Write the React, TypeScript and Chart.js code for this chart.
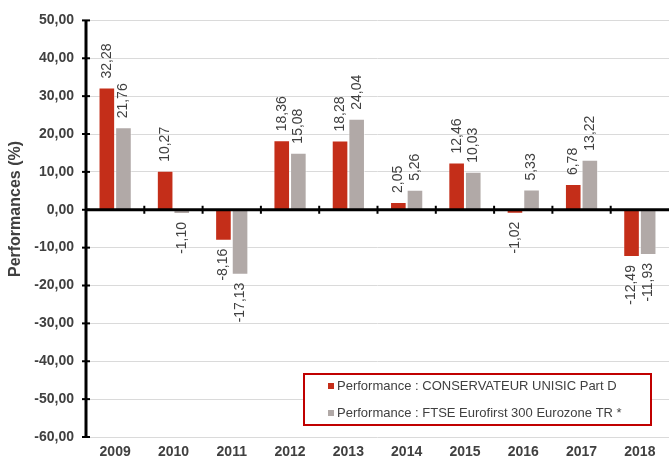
import React, { useEffect, useRef } from "react";
import { Chart, registerables } from "chart.js";

Chart.register(...registerables);

const years = ["2009", "2010", "2011", "2012", "2013", "2014", "2015", "2016", "2017", "2018"];
const fundValues = [32.28, 10.27, -8.16, 18.36, 18.28, 2.05, 12.46, -1.02, 6.78, -12.49];
const indexValues = [21.76, -1.1, -17.13, 15.08, 24.04, 5.26, 10.03, 5.33, 13.22, -11.93];
const fundLabel = "Performance : CONSERVATEUR UNISIC Part D";
const indexLabel = "Performance : FTSE Eurofirst 300 Eurozone TR *";
const yTitle = "Performances (%)";
const yMin = -60;
const yMax = 50;
const yStep = 10;

const RED = "#C42E19";
const GREY = "#B1A9A7";
const TEXT = "#404040";

const fmt = (v: number) => v.toFixed(2).replace(".", ",");

const customPlugin = {
  id: "custom",
  afterDatasetsDraw(chart: any) {
    const ctx = chart.ctx;
    const { chartArea } = chart;
    const x = chart.scales.x;
    const y = chart.scales.y;
    const zeroY = y.getPixelForValue(0);
    ctx.save();
    // zero line
    ctx.strokeStyle = "#000";
    ctx.lineWidth = 3;
    ctx.beginPath();
    ctx.moveTo(chartArea.left, zeroY);
    ctx.lineTo(chartArea.right, zeroY);
    ctx.stroke();
    // category boundary ticks on zero line
    ctx.lineWidth = 2;
    const n = chart.data.labels.length;
    for (let i = 1; i < n; i++) {
      const bx = (x.getPixelForValue(i - 1) + x.getPixelForValue(i)) / 2;
      ctx.beginPath();
      ctx.moveTo(bx, zeroY - 4);
      ctx.lineTo(bx, zeroY + 4);
      ctx.stroke();
    }
    // y axis line
    ctx.lineWidth = 3;
    ctx.beginPath();
    ctx.moveTo(chartArea.left, chartArea.top);
    ctx.lineTo(chartArea.left, chartArea.bottom + 1);
    ctx.stroke();
    ctx.lineWidth = 2;
    for (let v = yMin; v <= yMax; v += yStep) {
      const py = y.getPixelForValue(v);
      ctx.beginPath();
      ctx.moveTo(chartArea.left - 4, py);
      ctx.lineTo(chartArea.left + 4, py);
      ctx.stroke();
    }
    // data labels
    ctx.fillStyle = TEXT;
    ctx.font = "14px 'Liberation Sans', Arial, sans-serif";
    chart.data.datasets.forEach((ds: any, di: number) => {
      const meta = chart.getDatasetMeta(di);
      meta.data.forEach((bar: any, i: number) => {
        const v = ds.data[i];
        ctx.save();
        ctx.translate(bar.x, bar.y);
        ctx.rotate(-Math.PI / 2);
        ctx.textBaseline = "middle";
        if (v >= 0) {
          ctx.textAlign = "left";
          ctx.fillText(fmt(v), 9, 0);
        } else {
          ctx.textAlign = "right";
          ctx.fillText(fmt(v), -8, 0);
        }
        ctx.restore();
      });
    });
    // y title
    ctx.save();
    ctx.translate(16, 209);
    ctx.rotate(-Math.PI / 2);
    ctx.textAlign = "center";
    ctx.textBaseline = "middle";
    ctx.font = "bold 16px 'Liberation Sans', Arial, sans-serif";
    ctx.fillStyle = TEXT;
    ctx.fillText(yTitle, 0, 0);
    ctx.restore();
    // legend box
    const lx = 304, ly = 374, lw = 347, lh = 51;
    ctx.fillStyle = "#fff";
    ctx.fillRect(lx, ly, lw, lh);
    ctx.strokeStyle = "#C00000";
    ctx.lineWidth = 2;
    ctx.strokeRect(lx, ly, lw, lh);
    const items = [
      { text: chart.data.datasets[0].label, color: RED, y: 386 },
      { text: chart.data.datasets[1].label, color: GREY, y: 413 },
    ];
    ctx.font = "13px 'Liberation Sans', Arial, sans-serif";
    ctx.textAlign = "left";
    ctx.textBaseline = "middle";
    items.forEach((it) => {
      ctx.fillStyle = it.color;
      ctx.fillRect(328, it.y - 3, 6, 6);
      ctx.fillStyle = TEXT;
      ctx.fillText(it.text, 337, it.y);
    });
    ctx.restore();
  },
};

export default function App() {
  const ref = useRef<HTMLCanvasElement | null>(null);
  useEffect(() => {
    if (!ref.current) return;
    const chart = new Chart(ref.current, {
      type: "bar",
      data: {
        labels: years,
        datasets: [
          {
            label: fundLabel,
            data: fundValues,
            backgroundColor: RED,
            borderColor: "rgba(255,255,255,0.35)",
            borderWidth: 1,
            categoryPercentage: 0.57,
            barPercentage: 1,
          },
          {
            label: indexLabel,
            data: indexValues,
            backgroundColor: GREY,
            borderColor: "rgba(255,255,255,0.5)",
            borderWidth: 1,
            categoryPercentage: 0.57,
            barPercentage: 1,
          },
        ],
      },
      options: {
        animation: false,
        responsive: false,
        devicePixelRatio: 1,
        layout: { padding: { top: 19, left: 0, right: 0, bottom: 0 } },
        plugins: {
          legend: { display: false },
          tooltip: { enabled: false },
        },
        scales: {
          x: {
            grid: { display: false, drawTicks: false },
            border: { display: false },
            ticks: {
              color: TEXT,
              padding: 7,
              font: { family: "'Liberation Sans', Arial, sans-serif", size: 14, weight: "bold" },
            },
            afterFit: (s: any) => {
              s.height = 24;
            },
          },
          y: {
            min: yMin,
            max: yMax,
            grid: { color: "#DADADA", lineWidth: 1, drawTicks: false },
            border: { display: false },
            ticks: {
              stepSize: yStep,
              padding: 12,
              color: TEXT,
              font: { family: "'Liberation Sans', Arial, sans-serif", size: 14, weight: "bold" },
              callback: (v: any) => fmt(Number(v)),
            },
            afterFit: (s: any) => {
              s.width = 86;
            },
          },
        },
      },
      plugins: [customPlugin],
    });
    return () => chart.destroy();
  }, []);
  return (
    <div style={{ position: "fixed", left: 0, top: 0, width: 669, height: 461, background: "#fff" }}>
      <canvas ref={ref} width={669} height={461} style={{ display: "block" }} />
    </div>
  );
}
